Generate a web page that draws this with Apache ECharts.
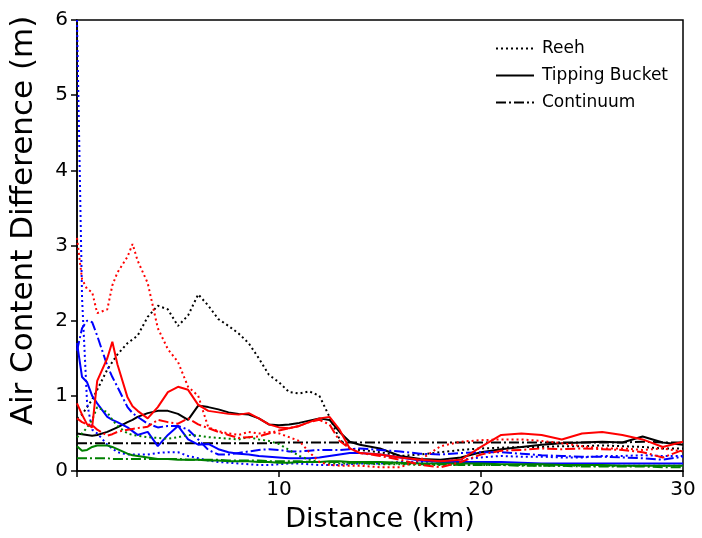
<!DOCTYPE html>
<html>
<head>
<meta charset="utf-8">
<script src="https://cdn.jsdelivr.net/npm/echarts@6/dist/echarts.min.js"></script>
<style>
html,body{margin:0;padding:0;background:#fff;}
#chart{width:702px;height:538px;}
</style>
</head>
<body>
<div id="chart"></div>
<script>
// Distance (km)
const distance = [0,0.25,0.5,0.75,1,1.5,1.75,2,2.5,2.75,3,3.5,
  4,4.5,5,5.5,6,6.5,7,7.5,8,8.5,9,9.5,
  10,10.5,11,11.5,12,12.5,13,13.5,14,
  15,16,17,18,19,20,21,22,
  23,24,25,26,27,28,29,30];

const xTicks = [10, 20, 30];
const yTicks = [0, 1, 2, 3, 4, 5, 6];

// Black
const blackReeh = [0.7,0.75,0.85,0.95,1.08,1.35,1.45,1.55,1.7,1.75,1.8,2.05,
  2.2,2.15,1.93,2.07,2.35,2.2,2.02,1.93,1.83,1.7,1.5,1.28,
  1.18,1.05,1.03,1.06,1.0,0.72,0.42,0.3,0.28,
  0.25,0.2,0.22,0.25,0.28,0.3,0.31,0.32,
  0.32,0.33,0.33,0.34,0.33,0.32,0.3,0.3];
const blackTipping = [0.5,0.49,0.48,0.47,0.48,0.52,0.55,0.58,0.65,0.68,0.72,0.77,
  0.8,0.8,0.76,0.68,0.87,0.85,0.82,0.78,0.76,0.75,0.7,0.62,
  0.61,0.62,0.64,0.67,0.7,0.68,0.52,0.39,0.35,
  0.3,0.2,0.16,0.15,0.18,0.25,0.29,0.32,
  0.35,0.37,0.38,0.39,0.38,0.46,0.38,0.35];
const blackContinuum = [0.37,0.37,0.37,0.37,0.37,0.37,0.37,0.37,0.37,0.37,0.37,0.37,
  0.37,0.37,0.37,0.37,0.37,0.37,0.37,0.37,0.37,0.37,0.37,0.37,
  0.38,0.38,0.38,0.38,0.38,0.38,0.38,0.38,0.38,
  0.38,0.38,0.38,0.38,0.38,0.38,0.38,0.38,
  0.38,0.38,0.38,0.38,0.38,0.39,0.38,0.38];

// Red
const redReeh = [3.1,2.55,2.42,2.38,2.1,2.15,2.47,2.64,2.85,3.02,2.8,2.5,
  1.9,1.62,1.45,1.12,1.0,0.58,0.53,0.5,0.48,0.52,0.5,0.52,
  0.5,0.45,0.4,0.25,0.12,0.08,0.07,0.07,0.07,
  0.05,0.05,0.15,0.33,0.39,0.41,0.42,0.42,
  0.4,0.37,0.33,0.3,0.3,0.28,0.3,0.26];
const redTipping = [0.9,0.75,0.62,0.58,1.2,1.5,1.72,1.42,0.98,0.86,0.8,0.7,
  0.85,1.05,1.12,1.08,0.88,0.8,0.78,0.76,0.75,0.77,0.7,0.62,
  0.58,0.57,0.6,0.65,0.7,0.72,0.55,0.3,0.24,
  0.22,0.18,0.15,0.13,0.15,0.32,0.48,0.5,
  0.48,0.42,0.5,0.52,0.48,0.42,0.32,0.39];
const redContinuum = [0.7,0.65,0.62,0.61,0.55,0.47,0.49,0.52,0.55,0.56,0.57,0.59,
  0.68,0.65,0.63,0.7,0.62,0.57,0.52,0.48,0.44,0.45,0.46,0.5,
  0.54,0.57,0.6,0.65,0.68,0.62,0.4,0.3,0.24,
  0.2,0.15,0.08,0.05,0.12,0.22,0.27,0.28,
  0.3,0.29,0.3,0.29,0.28,0.25,0.18,0.28];

// Blue
const blueReeh = [6.0,2.3,0.9,0.55,0.5,0.35,0.3,0.25,0.22,0.22,0.22,0.22,
  0.24,0.25,0.25,0.2,0.17,0.14,0.12,0.11,0.1,0.09,0.08,0.08,
  0.09,0.1,0.1,0.09,0.08,0.08,0.08,0.09,0.1,
  0.1,0.12,0.12,0.13,0.15,0.18,0.2,0.19,
  0.19,0.18,0.18,0.2,0.2,0.21,0.2,0.2];
const blueTipping = [1.7,1.25,1.18,1.0,0.9,0.72,0.68,0.65,0.58,0.53,0.48,0.52,
  0.33,0.48,0.6,0.42,0.35,0.36,0.29,0.25,0.23,0.22,0.2,0.19,
  0.18,0.17,0.17,0.17,0.18,0.2,0.22,0.24,0.24,
  0.22,0.18,0.14,0.12,0.12,0.12,0.12,0.11,
  0.1,0.1,0.1,0.1,0.1,0.1,0.1,0.1];
const blueContinuum = [1.6,1.9,2.0,1.98,1.8,1.4,1.25,1.12,0.85,0.77,0.72,0.63,
  0.58,0.6,0.6,0.55,0.42,0.28,0.22,0.22,0.24,0.26,0.28,0.29,
  0.28,0.26,0.26,0.27,0.28,0.28,0.28,0.29,0.3,
  0.28,0.26,0.23,0.22,0.24,0.25,0.25,0.23,
  0.21,0.2,0.19,0.19,0.18,0.17,0.15,0.19];

// Green
const greenReeh = [0.45,0.5,0.58,0.68,0.85,0.78,0.68,0.6,0.5,0.48,0.47,0.45,
  0.44,0.43,0.45,0.48,0.47,0.45,0.44,0.43,0.42,0.45,0.42,0.4,
  0.36,0.28,0.2,0.15,0.12,0.1,0.1,0.1,0.1,
  0.09,0.09,0.08,0.08,0.08,0.08,0.08,0.08,
  0.07,0.07,0.07,0.07,0.07,0.07,0.07,0.07];
const greenTipping = [0.33,0.27,0.28,0.32,0.34,0.34,0.32,0.29,0.23,0.21,0.2,0.18,
  0.16,0.16,0.15,0.15,0.15,0.14,0.14,0.13,0.13,0.13,0.12,0.12,
  0.11,0.11,0.12,0.12,0.12,0.13,0.13,0.12,0.12,
  0.12,0.11,0.1,0.1,0.1,0.1,0.09,0.09,
  0.09,0.08,0.08,0.08,0.07,0.07,0.07,0.07];
const greenContinuum = [0.17,0.17,0.17,0.17,0.17,0.17,0.16,0.16,0.16,0.16,0.16,0.16,
  0.16,0.16,0.16,0.15,0.15,0.15,0.15,0.14,0.14,0.14,0.14,0.13,
  0.13,0.13,0.13,0.12,0.12,0.12,0.12,0.11,0.11,
  0.1,0.1,0.09,0.09,0.08,0.08,0.08,0.07,
  0.07,0.07,0.06,0.06,0.06,0.06,0.05,0.05];

const methodNames = ['Reeh', 'Tipping Bucket', 'Continuum'];

const FONT = 'DejaVu Sans';
const DOT = [2, 3];
const DASHDOT = [10, 3, 2, 3];

function pairs(vals) { return distance.map((d, i) => [d, vals[i]]); }

function mk(name, vals, color, type) {
  return {
    name: name, type: 'line', data: pairs(vals), symbol: 'none',
    showSymbol: false, animation: false, smooth: false,
    lineStyle: { color: color, width: 2, type: type, cap: 'butt' },
    itemStyle: { color: color },
    emphasis: { disabled: true }
  };
}

const series = [
  mk(methodNames[0], blackReeh, '#000000', DOT),
  mk(methodNames[1], blackTipping, '#000000', 'solid'),
  mk(methodNames[2], blackContinuum, '#000000', DASHDOT),
  mk('Reeh (blue)', blueReeh, '#0000ff', DOT),
  mk('Tipping Bucket (blue)', blueTipping, '#0000ff', 'solid'),
  mk('Continuum (blue)', blueContinuum, '#0000ff', DASHDOT),
  mk('Reeh (green)', greenReeh, '#008000', DOT),
  mk('Tipping Bucket (green)', greenTipping, '#008000', 'solid'),
  mk('Continuum (green)', greenContinuum, '#008000', DASHDOT),
  mk('Reeh (red)', redReeh, '#ff0000', DOT),
  mk('Tipping Bucket (red)', redTipping, '#ff0000', 'solid'),
  mk('Continuum (red)', redContinuum, '#ff0000', DASHDOT)
];

const chart = echarts.init(document.getElementById('chart'), null, { renderer: 'canvas' });
chart.setOption({
  backgroundColor: '#ffffff',
  animation: false,
  grid: { left: 77, right: 19, top: 20, bottom: 65, show: true, borderColor: '#000', borderWidth: 1.5, backgroundColor: 'transparent' },
  legend: {
    data: methodNames,
    orient: 'vertical',
    left: 490, top: 35,
    itemWidth: 38, itemHeight: 16, itemGap: 10,
    itemStyle: { opacity: 0, color: 'transparent', borderWidth: 0 },
    textStyle: { fontFamily: FONT, fontSize: 17, lineHeight: 16, color: '#000', padding: [0, 0, 0, 3] },
    selectedMode: false
  },
  xAxis: {
    type: 'value', min: 0, max: 30, interval: 10,
    name: 'Distance (km)', nameLocation: 'middle', nameGap: 35,
    nameTextStyle: { fontFamily: FONT, fontSize: 27, color: '#000' },
    axisLine: { show: true, lineStyle: { color: '#000', width: 1.5 } },
    axisTick: { show: true, inside: false, length: 6, lineStyle: { color: '#000', width: 1.5 } },
    axisLabel: { fontFamily: FONT, fontSize: 20, color: '#000', margin: 9,
      formatter: v => (xTicks.indexOf(v) >= 0 ? String(v) : '') },
    splitLine: { show: false }
  },
  yAxis: {
    type: 'value', min: 0, max: 6, interval: 1,
    name: 'Air Content Difference (m)', nameLocation: 'middle', nameGap: 38,
    nameTextStyle: { fontFamily: FONT, fontSize: 31, color: '#000', padding: [0, 0, 0, 50] },
    axisLine: { show: true, lineStyle: { color: '#000', width: 1.5 } },
    axisTick: { show: true, inside: false, length: 6, lineStyle: { color: '#000', width: 1.5 } },
    axisLabel: { fontFamily: FONT, fontSize: 20, color: '#000', margin: 9,
      formatter: v => (yTicks.indexOf(v) >= 0 ? String(v) : '') },
    splitLine: { show: false }
  },
  series: series
});
</script>
</body>
</html>
